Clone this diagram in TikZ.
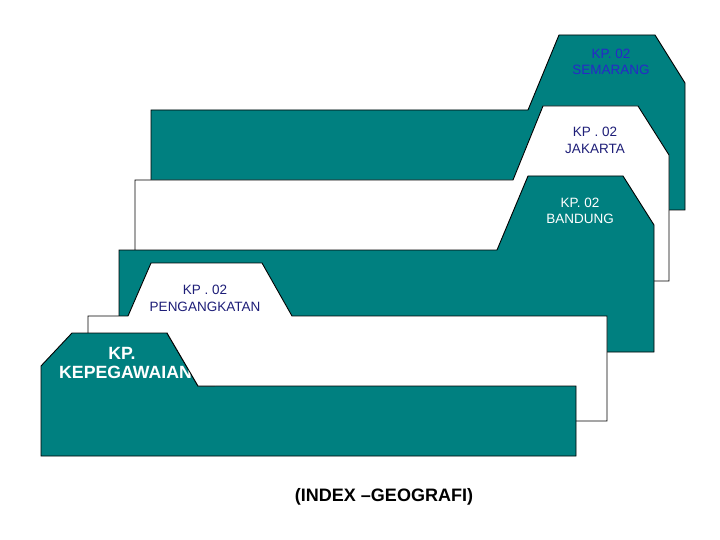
\documentclass[tikz,border=0pt]{standalone}
\usepackage{fontspec}
\setmainfont{Liberation Sans}
\definecolor{tealf}{HTML}{008080}
\definecolor{semblue}{HTML}{2828C8}
\definecolor{navy}{HTML}{1E1E78}
\begin{document}
\begin{tikzpicture}[x=1pt,y=-1pt,
  folder/.style={draw=black,line width=0.9pt,line join=miter},
  tealfolder/.style={folder,fill=tealf},
  whitefolder/.style={folder,fill=white},
  lbl/.style={inner sep=0pt,font=\fontsize{13.5}{16}\selectfont},
  biglbl/.style={inner sep=0pt,font=\fontsize{17.7}{20}\selectfont\bfseries,text=white}]
\useasboundingbox (0,0) rectangle (720,540);
% Semarang
\draw[tealfolder] (151,210) -- (151,110) -- (528,110) -- (559,35) -- (655,35) -- (685,83) -- (685,210) -- cycle;
% Jakarta
\draw[whitefolder] (135,281) -- (135,180) -- (513,180) -- (543,106) -- (638,106) -- (669,155) -- (669,281) -- cycle;
% Bandung
\draw[tealfolder] (119,352) -- (119,250) -- (497,250) -- (528,176) -- (623,176) -- (654,225) -- (654,352) -- cycle;
% Pengangkatan
\draw[whitefolder] (88,421) -- (88,316) -- (128,316) -- (151,263) -- (262,263) -- (292,316) -- (607,316) -- (607,421) -- cycle;
% Kepegawaian
\draw[tealfolder] (41,456) -- (41,366) -- (72,333) -- (167,333) -- (198,386) -- (576,386) -- (576,456) -- cycle;
% labels
\node[lbl,text=semblue] (sem1) at (611,54) {KP. 02};
\node[lbl,text=semblue] (sem2) at (611,70) {SEMARANG};
\node[lbl,text=navy] (jak1) at (595,132) {KP . 02};
\node[lbl,text=navy] (jak2) at (595,149) {JAKARTA};
\node[lbl,text=white] (ban1) at (580,203) {KP. 02};
\node[lbl,text=white] (ban2) at (580,219) {BANDUNG};
\node[lbl,text=navy] (pen1) at (205,290) {KP . 02};
\node[lbl,text=navy] (pen2) at (205,307) {PENGANGKATAN};
\node[biglbl] (kep1) at (122,353) {KP.};
\node[biglbl,anchor=base west] (kep2) at (59,378) {KEPEGAWAIAN};
% text overflow beyond the tab disappears on the white folder behind
\fill[white] (198,386) -- (167,333) -- (215,333) -- (215,386) -- cycle;
\draw[black,line width=0.9pt] (167,333) -- (198,386) -- (215,386);
\node[inner sep=0pt,font=\fontsize{18}{20}\selectfont\bfseries] (idx) at (384,497) {(INDEX –GEOGRAFI)};
\end{tikzpicture}
\end{document}
